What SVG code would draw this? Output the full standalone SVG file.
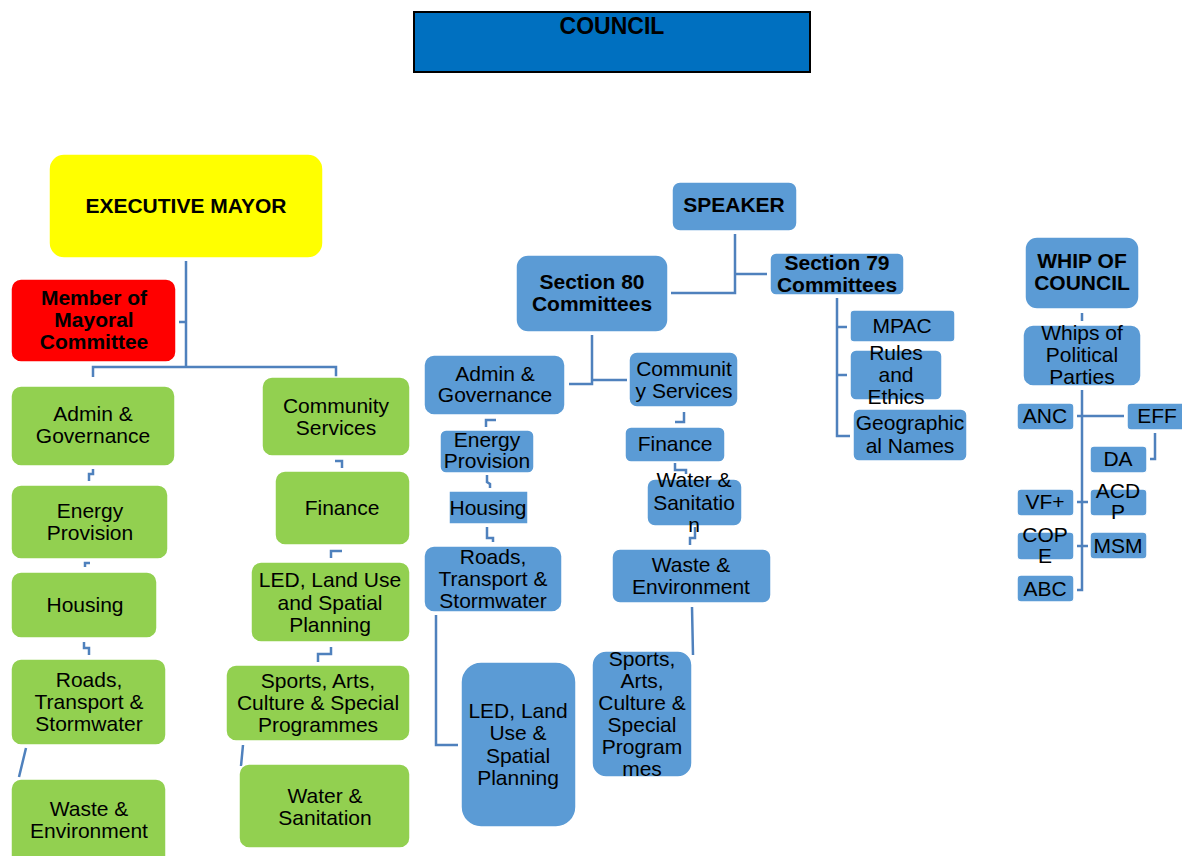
<svg xmlns="http://www.w3.org/2000/svg" width="1182" height="856" viewBox="0 0 1182 856">
<style>
text{font-family:"Liberation Sans",Arial,sans-serif;font-size:21px;fill:#000;text-anchor:middle}
.b{font-weight:bold}
.g{fill:#92D050;stroke:#fff;stroke-width:1.5}
.u{fill:#5B9BD5;stroke:#fff;stroke-width:1.5}
.c{fill:none;stroke:#4F81BD;stroke-width:2.5}
</style>
<rect width="1182" height="856" fill="#fff"/>
<g id="council"><rect x="414" y="12" width="396" height="60" fill="#0070C0" stroke="#000" stroke-width="2"/><text class="b" x="612" y="34" style="font-size:23px">COUNCIL</text></g>
<g id="connectors">
<path class="c" d="M186,261V368M186,322H179M93,377V367H336V378"/>
<path class="c" d="M89,481V474H93V469M85,567V563H90M84,642V648H89V655M26,748L19,777"/>
<path class="c" d="M335,461H342V468M331,558V551H342M318,662V654H331V647M243,745L241,766"/>
<path class="c" d="M735,234V293H671M735,274H767"/>
<path class="c" d="M592,335V384H569M592,380H627"/>
<path class="c" d="M486,427V420H496M675,422H684V412M487,475V482L490,484V488M487,527V538H493V542M675,463V470H686V474M695,527V538H690V545M436,615V745H458M692,607L693,655"/>
<path class="c" d="M837,298V436H850M837,327H847M837,375H847"/>
<path class="c" d="M1082,313V321M1082,390V590H1077M1077,416H1124M1155,433V459H1150M1077,502H1088M1077,546H1088"/>
</g>
<g id="mayor"><rect x="49" y="154" width="274" height="104" rx="15" fill="#FFFF00" stroke="#fff" stroke-width="1.5"/><text class="b" x="186" y="213">EXECUTIVE MAYOR</text></g>
<g id="mmc"><rect x="11" y="279" width="165" height="83" rx="10" fill="#FF0000" stroke="#fff" stroke-width="1.5"/><text class="b" x="94" y="305">Member of</text><text class="b" x="94" y="327">Mayoral</text><text class="b" x="94" y="349">Committee</text></g>
<g id="g-admin"><rect class="g" x="11" y="386" width="164" height="80" rx="10"/><text x="93" y="421">Admin &amp;</text><text x="93" y="443">Governance</text></g>
<g id="g-energy"><rect class="g" x="11" y="485" width="157" height="74" rx="10"/><text x="90" y="518">Energy</text><text x="90" y="540">Provision</text></g>
<g id="g-housing"><rect class="g" x="11" y="572" width="146" height="66" rx="10"/><text x="85" y="612">Housing</text></g>
<g id="g-roads"><rect class="g" x="11" y="659" width="155" height="86" rx="10"/><text x="89" y="687">Roads,</text><text x="89" y="709">Transport &amp;</text><text x="89" y="731">Stormwater</text></g>
<g id="g-waste"><rect class="g" x="11" y="779" width="155" height="90" rx="10"/><text x="89" y="816">Waste &amp;</text><text x="89" y="838">Environment</text></g>
<g id="g-community"><rect class="g" x="262" y="377" width="148" height="79" rx="10"/><text x="336" y="413">Community</text><text x="336" y="435">Services</text></g>
<g id="g-finance"><rect class="g" x="275" y="471" width="135" height="74" rx="10"/><text x="342" y="515">Finance</text></g>
<g id="g-led"><rect class="g" x="251" y="562" width="159" height="80" rx="10"/><text x="330" y="587">LED, Land Use</text><text x="330" y="610">and Spatial</text><text x="330" y="632">Planning</text></g>
<g id="g-sports"><rect class="g" x="226" y="665" width="184" height="76" rx="10"/><text x="318" y="688">Sports, Arts,</text><text x="318" y="710">Culture &amp; Special</text><text x="318" y="732">Programmes</text></g>
<g id="g-water"><rect class="g" x="239" y="764" width="171" height="84" rx="10"/><text x="325" y="803">Water &amp;</text><text x="325" y="825">Sanitation</text></g>
<g id="speaker"><rect class="u" x="672" y="182" width="125" height="49" rx="8"/><text class="b" x="734" y="212">SPEAKER</text></g>
<g id="s80"><rect class="u" x="516" y="255" width="152" height="77" rx="12"/><text class="b" x="592" y="289">Section 80</text><text class="b" x="592" y="311">Committees</text></g>
<g id="s79"><rect class="u" x="770" y="253" width="134" height="42" rx="6"/><text class="b" x="837" y="270">Section 79</text><text class="b" x="837" y="292">Committees</text></g>
<g id="b-admin"><rect class="u" x="424" y="355" width="141" height="60" rx="10"/><text x="495" y="381">Admin &amp;</text><text x="495" y="402">Governance</text></g>
<g id="b-community"><rect class="u" x="629" y="352" width="109" height="55" rx="8"/><text x="684" y="376">Communit</text><text x="684" y="398">y Services</text></g>
<g id="b-energy"><rect class="u" x="440" y="430" width="94" height="43" rx="6"/><text x="487" y="447">Energy</text><text x="487" y="468">Provision</text></g>
<g id="b-housing"><rect class="u" x="449" y="491" width="79" height="33"/><text x="488" y="515">Housing</text></g>
<g id="b-roads"><rect class="u" x="424" y="546" width="138" height="66" rx="10"/><text x="493" y="564">Roads,</text><text x="493" y="586">Transport &amp;</text><text x="493" y="608">Stormwater</text></g>
<g id="b-led"><rect class="u" x="461" y="662" width="115" height="165" rx="20"/><text x="518" y="718">LED, Land</text><text x="518" y="740">Use &amp;</text><text x="518" y="763">Spatial</text><text x="518" y="785">Planning</text></g>
<g id="b-finance"><rect class="u" x="625" y="427" width="100" height="35" rx="6"/><text x="675" y="451">Finance</text></g>
<g id="b-water"><rect class="u" x="647" y="479" width="95" height="47" rx="8"/><text x="694" y="487">Water &amp;</text><text x="694" y="510">Sanitatio</text><text x="694" y="532">n</text></g>
<g id="b-waste"><rect class="u" x="612" y="549" width="159" height="54" rx="8"/><text x="691" y="572">Waste &amp;</text><text x="691" y="594">Environment</text></g>
<g id="b-sports"><rect class="u" x="592" y="651" width="100" height="126" rx="14"/><text x="642" y="666">Sports,</text><text x="642" y="688">Arts,</text><text x="642" y="710">Culture &amp;</text><text x="642" y="732">Special</text><text x="642" y="754">Program</text><text x="642" y="776">mes</text></g>
<g id="mpac"><rect class="u" x="850" y="310" width="105" height="32" rx="4"/><text x="902" y="333">MPAC</text></g>
<g id="rules"><rect class="u" x="850" y="350" width="92" height="50" rx="6"/><text x="896" y="360">Rules</text><text x="896" y="382">and</text><text x="896" y="404">Ethics</text></g>
<g id="geo"><rect class="u" x="853" y="409" width="114" height="52" rx="6"/><text x="910" y="430">Geographic</text><text x="910" y="453">al Names</text></g>
<g id="whip"><rect class="u" x="1025" y="237" width="114" height="72" rx="12"/><text class="b" x="1082" y="268">WHIP OF</text><text class="b" x="1082" y="290">COUNCIL</text></g>
<g id="whips"><rect class="u" x="1023" y="325" width="118" height="61" rx="10"/><text x="1082" y="340">Whips of</text><text x="1082" y="362">Political</text><text x="1082" y="384">Parties</text></g>
<g id="anc"><rect class="u" x="1017" y="403" width="57" height="27" rx="4"/><text x="1045" y="423">ANC</text></g>
<g id="eff"><rect class="u" x="1127" y="403" width="60" height="27" rx="4"/><text x="1157" y="423">EFF</text></g>
<g id="da"><rect class="u" x="1090" y="446" width="57" height="27" rx="4"/><text x="1118" y="466">DA</text></g>
<g id="vf"><rect class="u" x="1017" y="489" width="57" height="27" rx="4"/><text x="1045" y="509">VF+</text></g>
<g id="acdp"><rect class="u" x="1090" y="489" width="57" height="27" rx="4"/><text x="1118" y="498">ACD</text><text x="1118" y="519">P</text></g>
<g id="cope"><rect class="u" x="1017" y="532" width="57" height="28" rx="4"/><text x="1045" y="542">COP</text><text x="1045" y="563">E</text></g>
<g id="msm"><rect class="u" x="1090" y="532" width="57" height="27" rx="4"/><text x="1118" y="553">MSM</text></g>
<g id="abc"><rect class="u" x="1017" y="575" width="57" height="27" rx="4"/><text x="1045" y="596">ABC</text></g>
</svg>
